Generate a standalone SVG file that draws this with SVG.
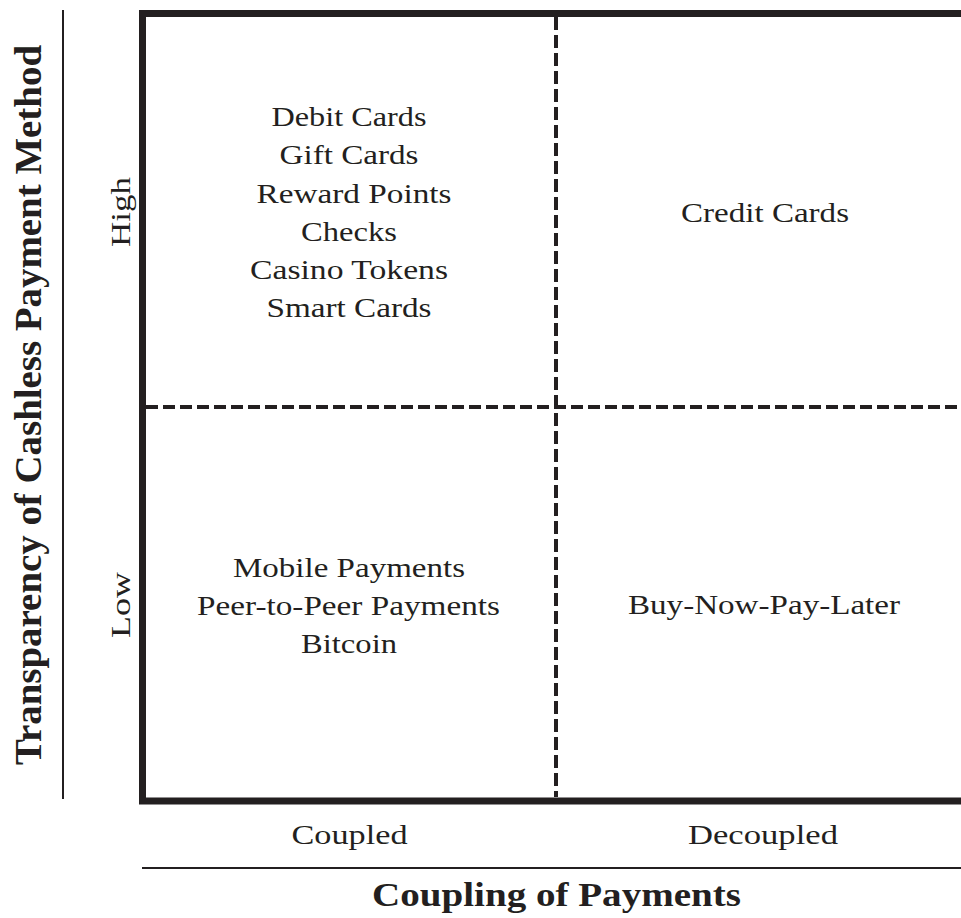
<svg xmlns="http://www.w3.org/2000/svg" width="961" height="918" viewBox="0 0 961 918">
<style>
.t{font-family:"Liberation Serif","Times New Roman",serif;font-size:28px;fill:#231f20;text-anchor:middle}
.b{font-family:"Liberation Serif","Times New Roman",serif;font-weight:bold;fill:#231f20;text-anchor:middle}
.frame{fill:none;stroke:#231f20;stroke-width:7;stroke-linejoin:miter}
.axis{stroke:#231f20;stroke-width:2;fill:none}
.dash{stroke:#231f20;stroke-width:4;fill:none}
</style>
<rect width="961" height="918" fill="#ffffff"/>
<g id="connectors">
  <path class="frame" d="M961 13.5 H142.5 V801 H961"/>
  <line class="axis" x1="63" y1="10" x2="63" y2="799"/>
  <line class="axis" x1="142" y1="868" x2="961" y2="868"/>
  <line class="dash" x1="556" y1="17" x2="556" y2="797" stroke-dasharray="13 5"/>
  <line class="dash" x1="146" y1="407" x2="961" y2="407" stroke-dasharray="12 5"/>
</g>
<g id="q-high-coupled">
  <text class="t" x="349" y="126" textLength="155" lengthAdjust="spacingAndGlyphs">Debit Cards</text>
  <text class="t" x="349" y="164.3" textLength="139" lengthAdjust="spacingAndGlyphs">Gift Cards</text>
  <text class="t" x="354" y="202.5" textLength="195" lengthAdjust="spacingAndGlyphs">Reward Points</text>
  <text class="t" x="349" y="240.8" textLength="96" lengthAdjust="spacingAndGlyphs">Checks</text>
  <text class="t" x="349" y="279" textLength="198" lengthAdjust="spacingAndGlyphs">Casino Tokens</text>
  <text class="t" x="349" y="317" textLength="165" lengthAdjust="spacingAndGlyphs">Smart Cards</text>
</g>
<g id="q-high-decoupled">
  <text class="t" x="765" y="222" textLength="168" lengthAdjust="spacingAndGlyphs">Credit Cards</text>
</g>
<g id="q-low-coupled">
  <text class="t" x="349" y="577" textLength="232" lengthAdjust="spacingAndGlyphs">Mobile Payments</text>
  <text class="t" x="348.5" y="615" textLength="303" lengthAdjust="spacingAndGlyphs">Peer-to-Peer Payments</text>
  <text class="t" x="349" y="653" textLength="96" lengthAdjust="spacingAndGlyphs">Bitcoin</text>
</g>
<g id="q-low-decoupled">
  <text class="t" x="764" y="614" textLength="272" lengthAdjust="spacingAndGlyphs">Buy-Now-Pay-Later</text>
</g>
<g id="x-axis">
  <text class="t" x="349.5" y="844" textLength="116" lengthAdjust="spacingAndGlyphs">Coupled</text>
  <text class="t" x="763" y="844" textLength="150" lengthAdjust="spacingAndGlyphs">Decoupled</text>
  <text class="b" x="556.5" y="906" font-size="33" textLength="369" lengthAdjust="spacingAndGlyphs">Coupling of Payments</text>
</g>
<g id="y-axis">
  <text class="t" transform="translate(129.5 212) rotate(-90)" x="0" y="0" textLength="70" lengthAdjust="spacingAndGlyphs">High</text>
  <text class="t" transform="translate(129.5 605) rotate(-90)" x="0" y="0" textLength="66" lengthAdjust="spacingAndGlyphs">Low</text>
  <text class="b" transform="translate(41 405) rotate(-90)" x="0" y="0" font-size="38" textLength="720" lengthAdjust="spacingAndGlyphs">Transparency of Cashless Payment Method</text>
</g>
</svg>
